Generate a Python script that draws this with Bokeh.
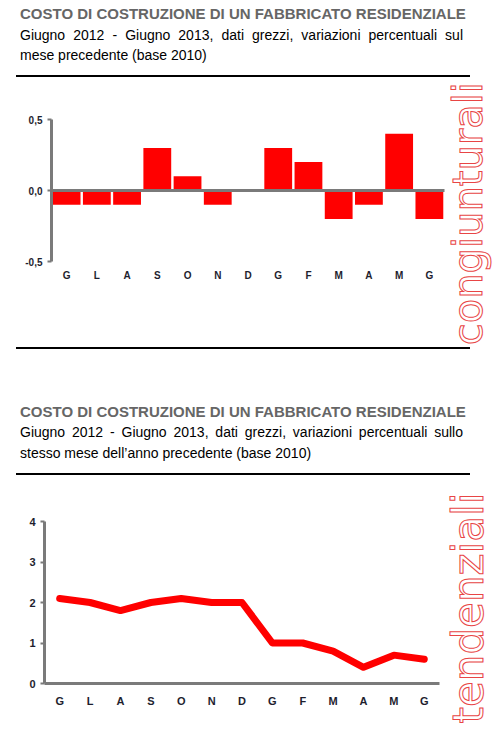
import math
from bokeh.plotting import figure
from bokeh.models import (Div, Range1d, LinearAxis, FixedTicker, CustomJSTickFormatter,
                          Label, ColumnDataSource)
from bokeh.layouts import column
from bokeh.embed import file_html
from bokeh.resources import INLINE

# ---------------- data ----------------
months = ["G", "L", "A", "S", "O", "N", "D", "G", "F", "M", "A", "M", "G"]
monthly_change = [-0.1, -0.1, -0.1, 0.3, 0.1, -0.1, 0.0, 0.3, 0.2, -0.2, -0.1, 0.4, -0.2]
yearly_change = [2.1, 2.0, 1.8, 2.0, 2.1, 2.0, 2.0, 1.0, 1.0, 0.8, 0.4, 0.7, 0.6]
y1_ticks = [-0.5, 0, 0.5]
y2_ticks = [0, 1, 2, 3, 4]

title_text = "COSTO DI COSTRUZIONE DI UN FABBRICATO RESIDENZIALE"
sub1_lines = ["Giugno 2012 - Giugno 2013, dati grezzi, variazioni percentuali sul",
              "mese precedente (base 2010)"]
sub2_lines = ["Giugno 2012 - Giugno 2013, dati grezzi, variazioni percentuali sullo",
              "stesso mese dell\u2019anno precedente (base 2010)"]
side1 = "congiunturali"
side2 = "tendenziali"

FONT = "'Liberation Sans', Arial, sans-serif"
RED = "#ff0000"
GREY = "#7a7a7a"
W = 484


def header(height, title_top, l1_top, l2_top, rules, lines):
    parts = [f'<div style="position:relative;width:{W}px;height:{height}px;font-family:{FONT};">']
    for top in rules:
        parts.append(f'<div style="position:absolute;left:8px;top:{top}px;width:454px;'
                     f'height:2px;background:#000;"></div>')
    parts.append(f'<div style="position:absolute;left:12px;top:{title_top}px;width:450px;'
                 f'font-size:15px;line-height:15px;font-weight:bold;color:#666;'
                 f'white-space:nowrap;">{title_text}</div>')
    parts.append(f'<div style="position:absolute;left:12px;top:{l1_top}px;width:443px;'
                 f'font-size:14px;line-height:20px;color:#000;text-align:justify;'
                 f'text-align-last:justify;">{lines[0]}</div>')
    parts.append(f'<div style="position:absolute;left:12px;top:{l2_top}px;width:443px;'
                 f'font-size:14px;line-height:20px;color:#000;white-space:nowrap;">{lines[1]}</div>')
    parts.append('</div>')
    return Div(text="".join(parts), width=W, height=height, margin=(0, 0, 0, 0))


def style_axis(ax, size):
    ax.major_label_text_font = "Liberation Sans"
    ax.major_label_text_font_style = "bold"
    ax.major_label_text_font_size = size
    ax.major_label_text_color = "#1e1e2e"
    ax.minor_tick_line_color = None


def side_label(text, x, y, size):
    return Label(x=x, y=y, text=text, angle=math.pi / 2,
                 text_align="left", text_baseline="alphabetic",
                 text_font="DejaVu Sans", text_font_size=size,
                 text_color="white", text_outline_color="#e84545")


xs = list(range(len(months)))
labels_map = {i: m for i, m in enumerate(months)}
cat_bounds = (-0.5, len(months) - 0.5)

# ---------------- chart 1: bars ----------------
p1 = figure(width=W, height=270, x_range=Range1d(-1.922, 14.088), y_range=Range1d(-1.1056, 0.7958),
            x_axis_type=None, y_axis_type=None, toolbar_location=None, output_backend="svg",
            min_border=0)
p1.outline_line_color = None

src1 = ColumnDataSource(dict(x=xs, top=monthly_change))
p1.vbar(x="x", top="top", bottom=0, width=0.92, source=src1, fill_color=RED, line_color=None)

ya1 = LinearAxis(ticker=FixedTicker(ticks=y1_ticks), fixed_location=cat_bounds[0],
                 bounds=(min(y1_ticks), max(y1_ticks)),
                 formatter=CustomJSTickFormatter(code="return tick.toFixed(1).replace('.', ',')"))
ya1.axis_line_color = GREY
ya1.axis_line_width = 3
ya1.major_tick_line_color = GREY
ya1.major_tick_line_width = 2
ya1.major_tick_in = 0
ya1.major_tick_out = 4
ya1.major_label_standoff = 5
style_axis(ya1, "10px")
p1.add_layout(ya1, "left")

# zero line (axis at 0 without labels)
za1 = LinearAxis(ticker=FixedTicker(ticks=[]), fixed_location=0, bounds=cat_bounds)
za1.axis_line_color = GREY
za1.axis_line_width = 3
za1.major_tick_line_color = None
za1.minor_tick_line_color = None
za1.major_label_text_color = None
p1.add_layout(za1, "below")

xa1 = LinearAxis(ticker=FixedTicker(ticks=xs), major_label_overrides=labels_map,
                 fixed_location=min(y1_ticks), bounds=cat_bounds)
xa1.axis_line_color = None
xa1.major_tick_line_color = None
xa1.major_tick_in = 0
xa1.major_tick_out = 0
xa1.major_label_standoff = 8
style_axis(xa1, "10px")
p1.add_layout(xa1, "below")

p1.add_layout(side_label(side1, 13.29, -1.09, "40px"))

# ---------------- chart 2: line ----------------
p2 = figure(width=W, height=250, x_range=Range1d(-1.685, 14.246), y_range=Range1d(-1.037, 5.136),
            x_axis_type=None, y_axis_type=None, toolbar_location=None, output_backend="svg",
            min_border=0)
p2.outline_line_color = None

src2 = ColumnDataSource(dict(x=xs, y=yearly_change))
p2.line(x="x", y="y", source=src2, line_color=RED, line_width=7,
        line_join="round", line_cap="round")

ya2 = LinearAxis(ticker=FixedTicker(ticks=y2_ticks), fixed_location=cat_bounds[0],
                 bounds=(min(y2_ticks), max(y2_ticks)))
ya2.axis_line_color = GREY
ya2.axis_line_width = 3
ya2.major_tick_line_color = GREY
ya2.major_tick_line_width = 2
ya2.major_tick_in = 0
ya2.major_tick_out = 4
ya2.major_label_standoff = 5
style_axis(ya2, "11px")
p2.add_layout(ya2, "left")

xa2 = LinearAxis(ticker=FixedTicker(ticks=xs), major_label_overrides=labels_map,
                 fixed_location=min(y2_ticks), bounds=cat_bounds)
xa2.axis_line_color = GREY
xa2.axis_line_width = 3
xa2.major_tick_line_color = None
xa2.major_tick_in = 0
xa2.major_tick_out = 0
xa2.major_label_standoff = 11
style_axis(xa2, "11px")
p2.add_layout(xa2, "below")

p2.add_layout(side_label(side2, 13.45, -0.988, "42px"))

# ---------------- layout ----------------
h1 = header(69, -2, 16.5, 36.5, [67], sub1_lines)
h2 = header(128, 57, 75, 96, [0, 126], sub2_lines)

layout = column(h1, p1, h2, p2, spacing=0, margin=(8, 0, 0, 8))
open("out.html", "w").write(file_html(layout, INLINE, title="Costo di costruzione"))
